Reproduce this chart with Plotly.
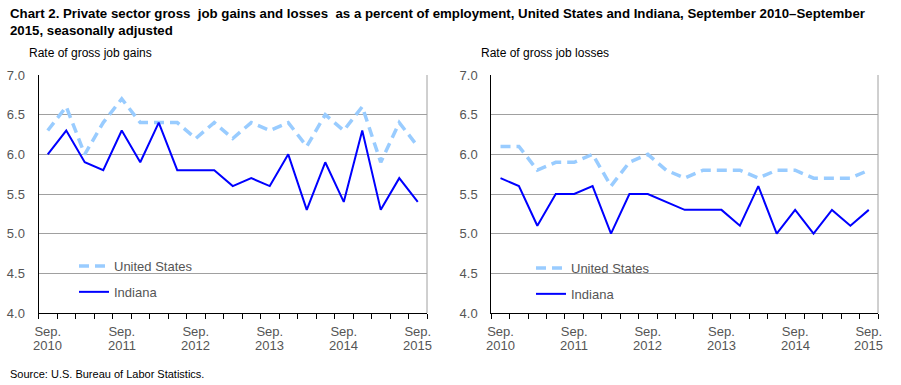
import plotly.graph_objects as go

quarters = ["Sep 2010", "Dec 2010", "Mar 2011", "Jun 2011", "Sep 2011", "Dec 2011", "Mar 2012",
            "Jun 2012", "Sep 2012", "Dec 2012", "Mar 2013", "Jun 2013", "Sep 2013", "Dec 2013",
            "Mar 2014", "Jun 2014", "Sep 2014", "Dec 2014", "Mar 2015", "Jun 2015", "Sep 2015"]
month_labels = ["Sep.", "", "", "", "Sep.", "", "", "", "Sep.", "", "", "",
                "Sep.", "", "", "", "Sep.", "", "", "", "Sep."]
year_labels = ["2010", "", "", "", "2011", "", "", "", "2012", "", "", "",
               "2013", "", "", "", "2014", "", "", "", "2015"]

gains_us = [6.3, 6.6, 6.0, 6.4, 6.7, 6.4, 6.4, 6.4, 6.2, 6.4, 6.2, 6.4, 6.3, 6.4, 6.1, 6.5, 6.3, 6.6, 5.9, 6.4, 6.1]
gains_in = [6.0, 6.3, 5.9, 5.8, 6.3, 5.9, 6.4, 5.8, 5.8, 5.8, 5.6, 5.7, 5.6, 6.0, 5.3, 5.9, 5.4, 6.3, 5.3, 5.7, 5.4]
losses_us = [6.1, 6.1, 5.8, 5.9, 5.9, 6.0, 5.6, 5.9, 6.0, 5.8, 5.7, 5.8, 5.8, 5.8, 5.7, 5.8, 5.8, 5.7, 5.7, 5.7, 5.8]
losses_in = [5.7, 5.6, 5.1, 5.5, 5.5, 5.6, 5.0, 5.5, 5.5, 5.4, 5.3, 5.3, 5.3, 5.1, 5.6, 5.0, 5.3, 5.0, 5.3, 5.1, 5.3]

US_COLOR = "#99CCFF"
IN_COLOR = "#0000FF"
FONT = "Liberation Sans, Arial, sans-serif"

fig = go.Figure()
fig.add_trace(go.Scatter(x=quarters, y=gains_us, name="United States", mode="lines",
                         line=dict(color=US_COLOR, width=3.5, dash="10px,6px"),
                         xaxis="x", yaxis="y", legend="legend", legendgroup="a"))
fig.add_trace(go.Scatter(x=quarters, y=gains_in, name="Indiana", mode="lines",
                         line=dict(color=IN_COLOR, width=2),
                         xaxis="x", yaxis="y", legend="legend", legendgroup="b"))
fig.add_trace(go.Scatter(x=quarters, y=losses_us, name="United States", mode="lines",
                         line=dict(color=US_COLOR, width=3.5, dash="10px,6px"),
                         xaxis="x2", yaxis="y2", legend="legend2", legendgroup="c"))
fig.add_trace(go.Scatter(x=quarters, y=losses_in, name="Indiana", mode="lines",
                         line=dict(color=IN_COLOR, width=2),
                         xaxis="x2", yaxis="y2", legend="legend2", legendgroup="d"))

W, H = 901, 385
ydom = [1 - 313 / H, 1 - 75 / H]
xdom1 = [38.5 / W, 427 / W]
xdom2 = [491.3 / W, 878 / W]

tickfont = dict(family=FONT, size=13, color="#555555")
xcommon = dict(type="category", categoryorder="array", categoryarray=quarters,
               tickmode="array", tickvals=quarters, ticktext=month_labels, tickangle=0,
               range=[-0.5, 20.5], fixedrange=True, automargin=False,
               tickfont=tickfont, showgrid=False, zeroline=False,
               tickson="boundaries", ticks="outside", ticklen=5,
               tickcolor="black", ticklabelstandoff=6,
               showline=True, linecolor="black", linewidth=1)
ycommon = dict(range=[4, 7], dtick=0.5, tick0=4, tickformat=".1f",
               showgrid=True, gridcolor="#A0A0A0", gridwidth=1,
               showline=True, linecolor="black", linewidth=1, zeroline=False,
               ticks="", ticklabelstandoff=10, automargin=False,
               tickfont=tickfont, fixedrange=True)

legcommon = dict(bgcolor="rgba(0,0,0,0)", borderwidth=0, traceorder="grouped",
                 tracegroupgap=6, font=dict(family=FONT, size=13, color="#555555"),
                 xanchor="left", yanchor="top")

annotations = [
    dict(text="<b>Chart 2. Private sector gross\u00a0 job gains and losses\u00a0 as a percent of employment, United States and Indiana, September 2010\u2013September<br>2015, seasonally adjusted</b>",
         xref="paper", yref="paper", x=8 / W, y=1 - 3.5 / H, xanchor="left", yanchor="top",
         align="left", showarrow=False, font=dict(family=FONT, size=13.25, color="black")),
    dict(text="Rate of gross job gains", xref="paper", yref="paper", x=27 / W, y=1 - 44 / H,
         xanchor="left", yanchor="top", showarrow=False,
         font=dict(family=FONT, size=12, color="black")),
    dict(text="Rate of gross job losses", xref="paper", yref="paper", x=479 / W, y=1 - 44 / H,
         xanchor="left", yanchor="top", showarrow=False,
         font=dict(family=FONT, size=12, color="black")),
    dict(text="Source: U.S. Bureau of Labor Statistics.", xref="paper", yref="paper",
         x=8 / W, y=1 - 366 / H, xanchor="left", yanchor="top", showarrow=False,
         font=dict(family=FONT, size=11, color="black")),
]
# second line of the x tick labels (years), placed on the category scale
for xr, yr in (("x", "y domain"), ("x2", "y2 domain")):
    for q, lab in zip(quarters, year_labels):
        if lab:
            annotations.append(dict(text=lab, xref=xr, yref=yr, x=q, y=0, xanchor="center",
                                    yanchor="top", yshift=-23, showarrow=False,
                                    font=tickfont))

fig.update_layout(
    width=W, height=H,
    margin=dict(l=0, r=0, t=0, b=0, autoexpand=False),
    paper_bgcolor="white", plot_bgcolor="white",
    xaxis=dict(domain=xdom1, anchor="y", **xcommon),
    yaxis=dict(domain=ydom, anchor="x", **ycommon),
    xaxis2=dict(domain=xdom2, anchor="y2", **xcommon),
    yaxis2=dict(domain=ydom, anchor="x2", **ycommon),
    legend=dict(x=74 / W, y=1 - 251 / H, **legcommon),
    legend2=dict(x=531 / W, y=1 - 253 / H, **legcommon),
    showlegend=True,
    shapes=[
        dict(type="line", xref="x domain", yref="y domain", x0=1, x1=1, y0=0, y1=1,
             line=dict(color="#A0A0A0", width=1)),
        dict(type="line", xref="x2 domain", yref="y2 domain", x0=1, x1=1, y0=0, y1=1,
             line=dict(color="#A0A0A0", width=1)),
    ],
    annotations=annotations,
)

fig.write_html("out.html", config={"displayModeBar": False},
               post_script="document.body.style.margin='0';document.body.style.overflow='hidden';")
